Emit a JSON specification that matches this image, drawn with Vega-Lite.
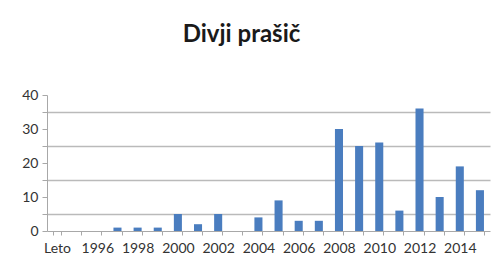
{
  "$schema": "https://vega.github.io/schema/vega-lite/v6.json",
  "autosize": {"type": "none"},
  "width": 443,
  "height": 136,
  "padding": {"left": 47, "top": 95, "right": 3, "bottom": 39},
  "background": "white",
  "title": {
    "text": "Divji prašič",
    "font": "Lato",
    "fontSize": 24,
    "fontWeight": "bold",
    "color": "#1a1a1a",
    "anchor": "middle",
    "frame": "group",
    "offset": 41,
    "dx": -27
  },
  "data": {
    "values": [
      {"leto": "Leto", "stevilo": null},
      {"leto": "1995", "stevilo": 0},
      {"leto": "1996", "stevilo": 0},
      {"leto": "1997", "stevilo": 1},
      {"leto": "1998", "stevilo": 1},
      {"leto": "1999", "stevilo": 1},
      {"leto": "2000", "stevilo": 5},
      {"leto": "2001", "stevilo": 2},
      {"leto": "2002", "stevilo": 5},
      {"leto": "2003", "stevilo": 0},
      {"leto": "2004", "stevilo": 4},
      {"leto": "2005", "stevilo": 9},
      {"leto": "2006", "stevilo": 3},
      {"leto": "2007", "stevilo": 3},
      {"leto": "2008", "stevilo": 30},
      {"leto": "2009", "stevilo": 25},
      {"leto": "2010", "stevilo": 26},
      {"leto": "2011", "stevilo": 6},
      {"leto": "2012", "stevilo": 36},
      {"leto": "2013", "stevilo": 10},
      {"leto": "2014", "stevilo": 19},
      {"leto": "2015", "stevilo": 12}
    ]
  },
  "encoding": {
    "x": {
      "field": "leto",
      "type": "nominal",
      "sort": null,
      "scale": {
        "domain": ["Leto","1995","1996","1997","1998","1999","2000","2001","2002","2003","2004","2005","2006","2007","2008","2009","2010","2011","2012","2013","2014","2015"],
        "paddingInner": 0.6,
        "paddingOuter": 0.3
      },
      "axis": {
        "title": null,
        "labelAngle": 0,
        "labelOverlap": false,
        "labelExpr": "datum.label == 'Leto' || toNumber(datum.label) % 2 == 0 ? datum.label : ''",
        "labelFont": "Lato",
        "labelFontSize": 14,
        "labelColor": "#333333",
        "labelPadding": 6,
        "tickBand": "extent",
        "tickSize": 4,
        "tickColor": "#a8a8a8",
        "domainColor": "#a8a8a8",
        "grid": false
      }
    }
  },
  "layer": [
    {
      "mark": {"type": "bar", "opacity": 0},
      "encoding": {
        "y": {
          "field": "stevilo",
          "type": "quantitative",
          "scale": {"domain": [0, 40], "nice": false},
          "axis": {
            "title": null,
            "orient": "left",
            "values": [5, 15, 25, 35],
            "labels": false,
            "domain": false,
            "tickSize": 5,
            "tickColor": "#a8a8a8",
            "gridColor": "#bababa",
            "gridWidth": 1.5
          }
        }
      }
    },
    {
      "mark": {"type": "bar", "color": "#4a7dbf"},
      "encoding": {
        "y": {
          "field": "stevilo",
          "type": "quantitative",
          "scale": {"domain": [0, 40], "nice": false},
          "axis": {
            "title": null,
            "orient": "left",
            "values": [0, 10, 20, 30, 40],
            "labelFont": "Lato",
            "labelFontSize": 14,
            "labelColor": "#333333",
            "labelPadding": 4,
            "tickSize": 5,
            "tickColor": "#a8a8a8",
            "domainColor": "#a8a8a8",
            "gridColor": "#bababa",
            "gridWidth": 1.5
          }
        }
      }
    }
  ],
  "resolve": {"axis": {"y": "independent"}},
  "config": {"view": {"stroke": null}}
}
